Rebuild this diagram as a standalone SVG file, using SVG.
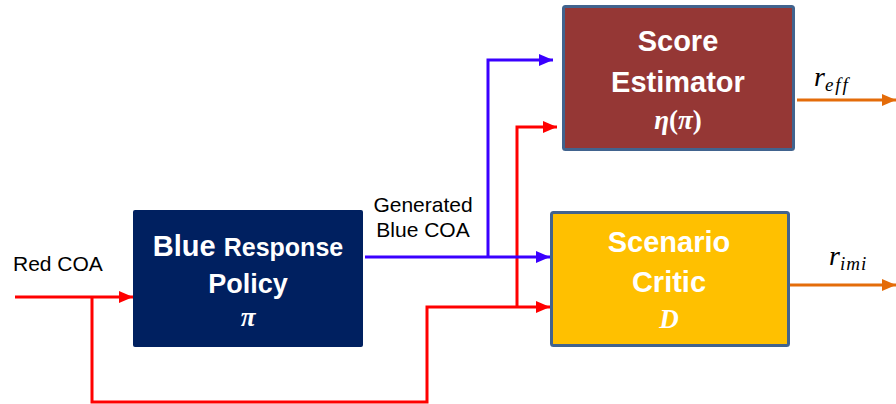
<svg xmlns="http://www.w3.org/2000/svg" width="896" height="404" viewBox="0 0 896 404">
<style>
.lbl{font-family:"Liberation Sans",Arial,sans-serif;font-size:21px;fill:#000}
.nt{font-family:"Liberation Sans",Arial,sans-serif;font-weight:bold;fill:#fff;text-anchor:middle}
.mt{font-family:"Liberation Serif","Times New Roman",serif;font-style:italic;font-weight:bold;fill:#fff;text-anchor:middle;font-size:27px}
.up{font-style:normal}
.rt{font-family:"Liberation Serif","Times New Roman",serif;font-style:italic;fill:#000;font-size:28px}
.red{stroke:#FF0000;stroke-width:3;fill:none}
.blue{stroke:#3A00FF;stroke-width:3;fill:none}
.org{stroke:#E46C0A;stroke-width:3;fill:none}
</style>
<defs>
<marker id="aR" markerUnits="userSpaceOnUse" markerWidth="14" markerHeight="12" refX="14" refY="6" orient="auto"><path d="M0,0 L14,6 L0,12 Z" fill="#FF0000"/></marker>
<marker id="aB" markerUnits="userSpaceOnUse" markerWidth="14" markerHeight="12" refX="14" refY="6" orient="auto"><path d="M0,0 L14,6 L0,12 Z" fill="#3A00FF"/></marker>
<marker id="aO" markerUnits="userSpaceOnUse" markerWidth="14" markerHeight="12" refX="14" refY="6" orient="auto"><path d="M0,0 L14,6 L0,12 Z" fill="#E46C0A"/></marker>
</defs>
<g id="connectors">
<path class="red" d="M15,297 H133" marker-end="url(#aR)"/>
<path class="red" d="M92,297 V402 H427 V307 H550" marker-end="url(#aR)"/>
<path class="red" d="M517,307 V127 H557" marker-end="url(#aR)"/>
<path class="blue" d="M365,257 H550" marker-end="url(#aB)"/>
<path class="blue" d="M488,257 V60 H553" marker-end="url(#aB)"/>
<path class="org" d="M797,100 H896" marker-end="url(#aO)"/>
<path class="org" d="M790,285 H896" marker-end="url(#aO)"/>
</g>
<g id="labels">
<text class="lbl" x="13" y="271">Red COA</text>
<text class="lbl" x="423" y="212" text-anchor="middle">Generated</text>
<text class="lbl" x="423" y="237" text-anchor="middle">Blue COA</text>
<text class="rt" x="814" y="86">r<tspan font-size="19" dy="5" letter-spacing="2">eff</tspan></text>
<text class="rt" x="829" y="265">r<tspan font-size="19" dy="5" letter-spacing="1">imi</tspan></text>
</g>
<g id="blue-response-policy">
<rect x="133" y="210" width="230" height="137" rx="2" fill="#002060"/>
<text class="nt" x="248" y="256"><tspan font-size="29">Blue </tspan><tspan font-size="25">Response</tspan></text>
<text class="nt" x="248" y="293" font-size="27">Policy</text>
<text class="mt" x="248" y="326">π</text>
</g>
<g id="score-estimator">
<rect x="563.5" y="6.5" width="230" height="143" rx="2" fill="#953735" stroke="#41638E" stroke-width="3"/>
<text class="nt" x="678" y="51" font-size="29">Score</text>
<text class="nt" x="678" y="92" font-size="29">Estimator</text>
<text class="mt" x="678" y="129">η<tspan class="up">(</tspan>π<tspan class="up">)</tspan></text>
</g>
<g id="scenario-critic">
<rect x="551.5" y="212.5" width="237" height="133" rx="2" fill="#FFC000" stroke="#41638E" stroke-width="3"/>
<text class="nt" x="669" y="252" font-size="29">Scenario</text>
<text class="nt" x="669" y="292" font-size="29">Critic</text>
<text class="mt" x="669" y="328">D</text>
</g>
</svg>
